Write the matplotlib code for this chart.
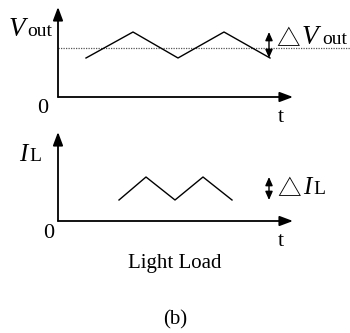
import matplotlib.pyplot as plt

# triangle ripple waveforms (x = time, y = level, screen units, y grows down)
vout_t = [86, 133, 178, 224, 270]
vout_y = [58, 32, 58, 32, 58]
vout_avg = 48

il_t = [119, 146, 175, 203, 232]
il_y = [200, 177, 200, 177, 200]

serif = ['Liberation Serif', 'DejaVu Serif']
sym = ['Noto Sans CJK SC', 'DejaVu Sans']

fig = plt.figure(figsize=(3.5, 3.33), dpi=100)
ax = fig.add_axes([0, 0, 1, 1])
ax.set_xlim(0, 350)
ax.set_ylim(333, 0)
ax.axis('off')

axis_arrow = dict(arrowstyle='-|>,head_length=0.8,head_width=0.3', color='black',
                  lw=1.3, shrinkA=0, shrinkB=0)
dbl_arrow = dict(arrowstyle='<|-|>,head_length=0.5,head_width=0.22', color='black',
                 lw=1.0, shrinkA=0, shrinkB=0)

# top panel: output voltage
ax.annotate('', xy=(58, 7), xytext=(58, 97), arrowprops=axis_arrow)
ax.annotate('', xy=(293, 97), xytext=(58, 97), arrowprops=axis_arrow)
ax.plot([58, 350], [vout_avg, vout_avg], color='#555555', lw=0.9, ls=(0, (1, 1)))
ax.plot(vout_t, vout_y, color='black', lw=1.0)
ax.annotate('', xy=(269, min(vout_y)), xytext=(269, max(vout_y)), arrowprops=dbl_arrow)

ax.text(9, 36, 'V', fontsize=19.5, style='italic', family=serif, va='baseline')
ax.text(27, 36, 'out', fontsize=14, family=serif, va='baseline')
ax.text(37, 113, '0', fontsize=16, family=serif, va='baseline')
ax.text(278, 122, 't', fontsize=16, family=serif, va='baseline')
ax.text(276, 46, '\u25b3', fontsize=17, family=sym, va='baseline')
ax.text(302, 44, 'V', fontsize=19.5, style='italic', family=serif, va='baseline')
ax.text(322, 44, 'out', fontsize=14, family=serif, va='baseline')

# bottom panel: inductor current
ax.annotate('', xy=(58, 132), xytext=(58, 221), arrowprops=axis_arrow)
ax.annotate('', xy=(293, 221), xytext=(58, 221), arrowprops=axis_arrow)
ax.plot(il_t, il_y, color='black', lw=1.0)
ax.annotate('', xy=(269, min(il_y)), xytext=(269, max(il_y)), arrowprops=dbl_arrow)

ax.text(19, 161, 'I', fontsize=18, style='italic', family=serif, va='baseline')
ax.text(29, 161, 'L', fontsize=14, family=serif, va='baseline')
ax.text(43, 238, '0', fontsize=16, family=serif, va='baseline')
ax.text(278, 246, 't', fontsize=16, family=serif, va='baseline')
ax.text(277, 196, '\u25b3', fontsize=17, family=sym, va='baseline')
ax.text(303, 194, 'I', fontsize=18, style='italic', family=serif, va='baseline')
ax.text(313, 194, 'L', fontsize=14, family=serif, va='baseline')

ax.text(175, 268, 'Light Load', fontsize=15, family=serif, ha='center', va='baseline')
ax.text(175, 324, '(b)', fontsize=15, family=serif, ha='center', va='baseline')

fig.savefig('out.png', dpi=100)
